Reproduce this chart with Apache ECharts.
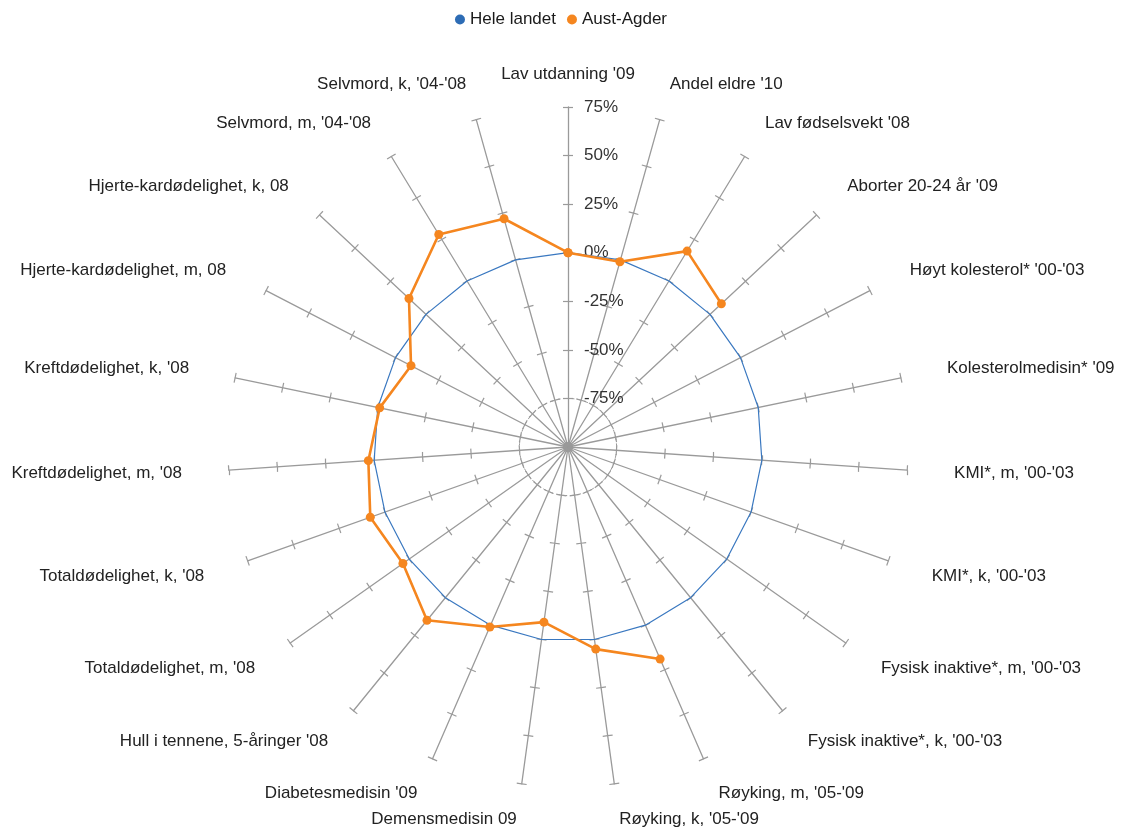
<!DOCTYPE html>
<html>
<head>
<meta charset="utf-8">
<title>Folkehelseprofil Aust-Agder</title>
<script src="https://cdn.jsdelivr.net/npm/echarts@6/dist/echarts.min.js"></script>
<style>
html, body { margin: 0; padding: 0; background: #fff; }
#container { width: 1122px; height: 829px; }
</style>
</head>
<body>
<div id="container"></div>
<script>
// indicators, clockwise from the top
var indicators = [
    "Lav utdanning '09",
    "Andel eldre '10",
    "Lav fødselsvekt '08",
    "Aborter 20-24 år '09",
    "Høyt kolesterol* '00-'03",
    "Kolesterolmedisin* '09",
    "KMI*, m, '00-'03",
    "KMI*, k, '00-'03",
    "Fysisk inaktive*, m, '00-'03",
    "Fysisk inaktive*, k, '00-'03",
    "Røyking, m, '05-'09",
    "Røyking, k, '05-'09",
    "Demensmedisin 09",
    "Diabetesmedisin '09",
    "Hull i tennene, 5-åringer '08",
    "Totaldødelighet, m, '08",
    "Totaldødelighet, k, '08",
    "Kreftdødelighet, m, '08",
    "Kreftdødelighet, k, '08",
    "Hjerte-kardødelighet, m, 08",
    "Hjerte-kardødelighet, k, 08",
    "Selvmord, m, '04-'08",
    "Selvmord, k, '04-'08"
];

var seriesNames = ['Hele landet', 'Aust-Agder'];

// percent deviation from the national level
var heleLandet = [0, 0, 0, 0, 0, 0, 0, 0, 0, 0, 0, 0, 0, 0, 0, 0, 0, 0, 0, 0, 0, 0, 0];
var austAgder = [0, -1, 18, 8, null, null, null, null, null, null,
                 19, 5, -9, 1, 15, 4, 8, 3, -1, -9, 12, 28, 22];

var axisMin = -100;
var axisMax = 75;
var axisStep = 25;

// [radius, angle] pairs, last one repeats the first to close the ring
function toPolar(values) {
    var pts = values.map(function (v, i) {
        return [v == null ? '-' : v, i];
    });
    var first = values[0];
    pts.push([first == null ? '-' : first, values.length]);
    return pts;
}

window.onload = function () {
    var myChart = echarts.init(document.getElementById('container'));
    var n = indicators.length;
    var center = [568, 447];
    var radius = 340;
    var gray = '#9a9a9a';
    var font = 'Liberation Sans, Arial, sans-serif';
    var fontSize = 17;

    var splitColors = [];
    for (var k = 0; k <= (axisMax - axisMin) / axisStep; k++) {
        splitColors.push(k === 1 ? gray : 'rgba(0,0,0,0)');
    }

    // radar runs counter-clockwise, so feed it the list the other way round
    var order = [0];
    for (var j = n - 1; j > 0; j--) order.push(j);

    var mainIndicators = order.map(function (i) {
        var a = i * 2 * Math.PI / n;
        var s = Math.sin(a);
        var item = {
            name: indicators[i],
            min: axisMin,
            max: axisMax,
            nameGap: i === 0 ? 24 : Math.round(36 + 11 * s * s)
        };
        if (i === 0) {
            item.axisLabel = { show: true };
        }
        return item;
    });
    var tickIndicators = order.map(function (i) {
        return { name: indicators[i], min: axisMin, max: axisMax };
    });

    var option = {
        animation: false,
        textStyle: { fontFamily: font },
        legend: {
            top: 6,
            left: 'center',
            icon: 'circle',
            itemWidth: 10,
            itemHeight: 10,
            itemGap: 11,
            textStyle: { fontSize: fontSize, color: '#1a1a1a', fontFamily: font },
            data: seriesNames
        },
        radar: [
            {
                center: center,
                radius: radius,
                startAngle: 90,
                shape: 'circle',
                splitNumber: (axisMax - axisMin) / axisStep,
                indicator: mainIndicators,
                axisName: { color: '#222', fontSize: fontSize, fontFamily: font },
                axisLine: { lineStyle: { color: gray, width: 1.3 } },
                axisTick: { show: true, length: 5, lineStyle: { color: gray, width: 1.2 } },
                axisLabel: {
                    show: false,
                    margin: -16,
                    align: 'left',
                    color: '#333',
                    fontSize: fontSize,
                    fontFamily: font,
                    formatter: function (v) {
                        return v === axisMin ? '' : v + '%';
                    }
                },
                splitLine: {
                    show: true,
                    lineStyle: { color: splitColors, width: 1, type: [4, 3] }
                },
                splitArea: { show: false }
            },
            {
                center: center,
                radius: radius,
                startAngle: 90,
                shape: 'circle',
                splitNumber: (axisMax - axisMin) / axisStep,
                indicator: tickIndicators,
                axisName: { show: false },
                axisLine: { show: false },
                axisTick: { show: true, length: -5, lineStyle: { color: gray, width: 1.2 } },
                axisLabel: { show: false },
                splitLine: { show: false },
                splitArea: { show: false }
            }
        ],
        polar: {
            center: center,
            radius: radius
        },
        angleAxis: {
            type: 'value',
            min: 0,
            max: n,
            startAngle: 90,
            clockwise: true,
            axisLine: { show: false },
            axisTick: { show: false },
            axisLabel: { show: false },
            splitLine: { show: false }
        },
        radiusAxis: {
            type: 'value',
            min: axisMin,
            max: axisMax,
            interval: axisStep,
            axisLine: { show: false },
            axisTick: { show: false },
            axisLabel: { show: false },
            splitLine: { show: false }
        },
        series: [
            {
                name: seriesNames[0],
                type: 'line',
                coordinateSystem: 'polar',
                data: toPolar(heleLandet),
                color: '#2d6cb5',
                symbol: 'circle',
                showSymbol: false,
                lineStyle: { width: 1.2, color: '#3a78c0' },
                z: 3
            },
            {
                name: seriesNames[1],
                type: 'line',
                coordinateSystem: 'polar',
                data: toPolar(austAgder),
                color: '#f5861f',
                symbol: 'circle',
                symbolSize: 9,
                connectNulls: false,
                lineStyle: { width: 2.6, color: '#f5861f' },
                itemStyle: { color: '#f5861f' },
                z: 4
            }
        ]
    };

    myChart.setOption(option);
};
</script>
</body>
</html>
